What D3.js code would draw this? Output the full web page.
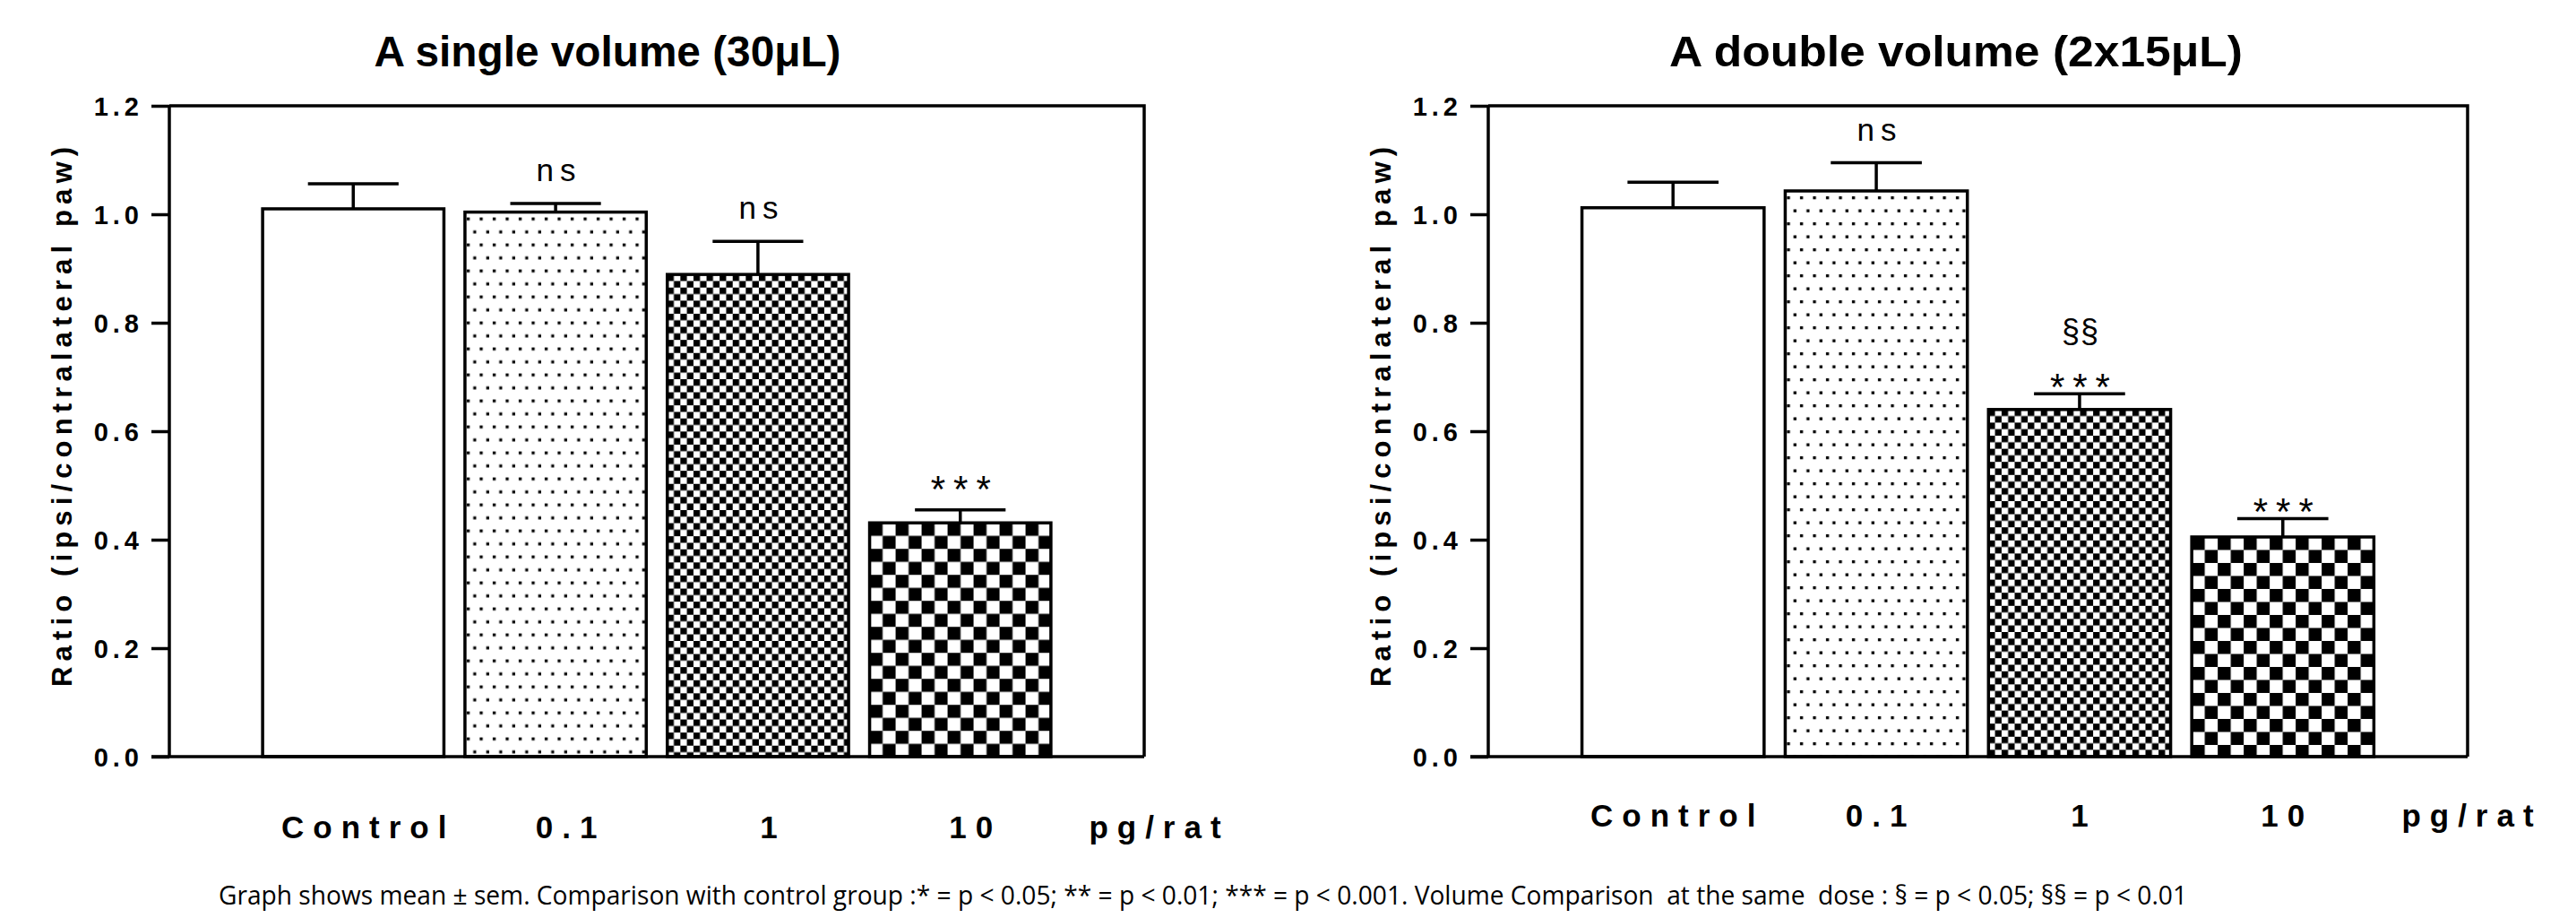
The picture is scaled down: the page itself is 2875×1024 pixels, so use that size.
<!DOCTYPE html>
<html>
<head>
<meta charset="utf-8">
<script src="https://cdn.jsdelivr.net/npm/d3@7"></script>
<style>
  body { margin: 0; background: #fff; }
  svg { display: block; }
</style>
</head>
<body>
<svg id="chart"></svg>
<script>
const doses = ["Control", "0.1", "1", "10"];
const unitLabel = "pg/rat";
const yTicks = [0, 0.2, 0.4, 0.6, 0.8, 1.0, 1.2];
const yLabel = "Ratio (ipsi/contralateral paw)";

const singleTitle = "A single volume (30\u03bcL)";
const singleMean = [1.01, 1.004, 0.889, 0.431];
const singleSem = [0.046, 0.016, 0.061, 0.024];
const singleStars = ["", "ns", "ns", "***"];
const singleVolume = ["", "", "", ""];

const doubleTitle = "A double volume (2x15\u03bcL)";
const doubleMean = [1.012, 1.043, 0.640, 0.405];
const doubleSem = [0.047, 0.052, 0.029, 0.034];
const doubleStars = ["", "ns", "***", "***"];
const doubleVolume = ["", "", "\u00a7\u00a7", ""];

const footnote = "Graph shows mean \u00b1 sem. Comparison with control group :* = p < 0.05; ** = p < 0.01; *** = p < 0.001. Volume Comparison  at the same  dose : \u00a7 = p < 0.05; \u00a7\u00a7 = p < 0.01";

const width = 2875;
const height = 1024;
const plotTop = 118;
const plotBottom = 844;
const font = "'Liberation Sans', Arial, Helvetica, sans-serif";
const lw = 3.5;

const svg = d3.select("#chart").attr("width", width).attr("height", height);
const defs = svg.append("defs");

const y = d3.scaleLinear().domain([0, 1.2]).range([plotBottom, plotTop]);

// fill for each dose: 0 plain, 1 dots, 2 fine checker, 3 coarse checker
function makePattern(id, kind, px, py) {
  if (kind === 1) {
    const s = 14.5;
    const p = defs.append("pattern").attr("id", id)
      .attr("patternUnits", "userSpaceOnUse")
      .attr("x", px).attr("y", py)
      .attr("width", s).attr("height", s * 2);
    p.append("rect").attr("width", s).attr("height", s * 2).attr("fill", "#fff");
    p.append("rect").attr("x", 2).attr("y", 6).attr("width", 3.3).attr("height", 3.3).attr("fill", "#000");
    p.append("rect").attr("x", 2 + s / 2).attr("y", 6 + s).attr("width", 3.3).attr("height", 3.3).attr("fill", "#000");
  } else {
    const c = kind === 2 ? 7.3 : 14.5;
    const p = defs.append("pattern").attr("id", id)
      .attr("patternUnits", "userSpaceOnUse")
      .attr("x", px).attr("y", py)
      .attr("width", c * 2).attr("height", c * 2);
    p.append("rect").attr("width", c * 2).attr("height", c * 2).attr("fill", "#fff");
    p.append("rect").attr("width", c).attr("height", c).attr("fill", "#000");
    p.append("rect").attr("x", c).attr("y", c).attr("width", c).attr("height", c).attr("fill", "#000");
  }
}

function drawPanel(cfg) {
  const x = d3.scaleBand()
    .domain(doses)
    .range([cfg.x0, cfg.x1])
    .paddingInner(0.104)
    .paddingOuter(0.461);

  const g = svg.append("g");

  // title
  g.append("text")
    .attr("x", cfg.titleX)
    .attr("y", 74)
    .attr("text-anchor", "middle")
    .attr("font-family", font)
    .attr("font-weight", "bold")
    .attr("font-size", 48)
    .attr("textLength", cfg.titleLen)
    .attr("lengthAdjust", "spacingAndGlyphs")
    .text(cfg.title);

  const rows = doses.map((d, i) => ({
    dose: d, i, mean: cfg.mean[i], sem: cfg.sem[i],
    star: cfg.stars[i], vol: cfg.volume[i]
  }));

  rows.forEach(r => {
    if (r.i > 0) makePattern(`${cfg.id}-p${r.i}`, r.i, x(r.dose), y(r.mean));
  });

  // error bars (upper only)
  const err = g.selectAll("g.err").data(rows).join("g").classed("err", true);
  err.append("line")
    .attr("x1", d => x(d.dose) + x.bandwidth() / 2)
    .attr("x2", d => x(d.dose) + x.bandwidth() / 2)
    .attr("y1", d => y(d.mean))
    .attr("y2", d => y(d.mean + d.sem))
    .attr("stroke", "#000").attr("stroke-width", lw);
  err.append("line")
    .attr("x1", d => x(d.dose) + x.bandwidth() / 4)
    .attr("x2", d => x(d.dose) + x.bandwidth() * 3 / 4)
    .attr("y1", d => y(d.mean + d.sem))
    .attr("y2", d => y(d.mean + d.sem))
    .attr("stroke", "#000").attr("stroke-width", lw);

  g.selectAll("rect.bar").data(rows).join("rect")
    .classed("bar", true)
    .attr("x", d => x(d.dose))
    .attr("y", d => y(d.mean))
    .attr("width", x.bandwidth())
    .attr("height", d => plotBottom - y(d.mean))
    .attr("fill", d => d.i === 0 ? "#fff" : `url(#${cfg.id}-p${d.i})`)
    .attr("stroke", "#000")
    .attr("stroke-width", lw);

  // frame: top and right
  g.append("path")
    .attr("d", `M${cfg.x0},${plotTop}H${cfg.x1}V${plotBottom}`)
    .attr("fill", "none").attr("stroke", "#000").attr("stroke-width", lw);

  // y axis
  const axis = g.append("g")
    .attr("transform", `translate(${cfg.x0},0)`)
    .call(d3.axisLeft(y).tickValues(yTicks).tickSize(20).tickFormat(d3.format(".1f")).tickPadding(0));
  axis.select(".domain").attr("stroke-width", lw).attr("d", `M0,${plotTop}V${plotBottom}`);
  axis.selectAll(".tick line").attr("stroke-width", lw);
  axis.selectAll(".tick text")
    .attr("x", -29)
    .attr("dy", "0.36em")
    .attr("font-family", font)
    .attr("font-weight", "bold")
    .attr("font-size", 29)
    .attr("letter-spacing", 5)
    .attr("fill", "#000");
  // bottom line incl. the zero tick
  g.append("line")
    .attr("x1", cfg.x0 - 20).attr("x2", cfg.x1)
    .attr("y1", plotBottom).attr("y2", plotBottom)
    .attr("stroke", "#000").attr("stroke-width", lw);

  // y title
  g.append("text")
    .attr("transform", `translate(${cfg.x0 - 109},465) rotate(-90)`)
    .attr("text-anchor", "middle")
    .attr("font-family", font)
    .attr("font-weight", "bold")
    .attr("font-size", 31)
    .attr("textLength", 602)
    .attr("lengthAdjust", "spacing")
    .text(yLabel);

  // x labels
  g.selectAll("text.xl").data(rows).join("text")
    .classed("xl", true)
    .attr("x", d => x(d.dose) + x.bandwidth() / 2 + cfg.labelShift + 5)
    .attr("y", cfg.labelY)
    .attr("text-anchor", "middle")
    .attr("font-family", font)
    .attr("font-weight", "bold")
    .attr("font-size", 35)
    .attr("letter-spacing", 10)
    .text(d => d.dose);
  g.append("text")
    .attr("x", cfg.x1 + cfg.labelShift + 5)
    .attr("y", cfg.labelY)
    .attr("text-anchor", "middle")
    .attr("font-family", font)
    .attr("font-weight", "bold")
    .attr("font-size", 35)
    .attr("letter-spacing", 10)
    .text(unitLabel);

  // significance marks
  g.selectAll("text.star").data(rows.filter(d => d.star)).join("text")
    .classed("star", true)
    .attr("x", d => x(d.dose) + x.bandwidth() / 2 + (d.star === "ns" ? 4 : 5))
    .attr("y", d => {
      const c = y(d.mean + d.sem) - (d.star === "ns" ? 34 : cfg.starGap);
      return d.star === "ns" ? c + 9 : c + 23;
    })
    .attr("text-anchor", "middle")
    .attr("font-family", font)
    .attr("font-size", d => d.star === "ns" ? 35 : 42)
    .attr("letter-spacing", d => d.star === "ns" ? 7 : 9)
    .text(d => d.star);

  g.selectAll("text.vol").data(rows.filter(d => d.vol)).join("text")
    .classed("vol", true)
    .attr("x", d => x(d.dose) + x.bandwidth() / 2 + 1)
    .attr("y", d => y(d.mean + d.sem) - cfg.starGap - 51 + 10)
    .attr("text-anchor", "middle")
    .attr("font-family", font)
    .attr("font-size", 36)
    .attr("letter-spacing", 1)
    .text(d => d.vol);
}

drawPanel({
  id: "single", title: singleTitle, titleX: 678, titleLen: 521,
  mean: singleMean, sem: singleSem, stars: singleStars, volume: singleVolume,
  x0: 189, x1: 1277, labelY: 935, labelShift: 12, starGap: 32
});

drawPanel({
  id: "double", title: doubleTitle, titleX: 2183, titleLen: 640,
  mean: doubleMean, sem: doubleSem, stars: doubleStars, volume: doubleVolume,
  x0: 1661, x1: 2754, labelY: 922, labelShift: 0, starGap: 16
});

svg.append("text")
  .attr("x", 244)
  .attr("y", 1009)
  .attr("font-family", "'Open Sans', 'Noto Sans', sans-serif")
  .attr("font-size", 29)
  .attr("textLength", 2197)
  .attr("lengthAdjust", "spacingAndGlyphs")
  .style("white-space", "pre")
  .text(footnote);
</script>
</body>
</html>
